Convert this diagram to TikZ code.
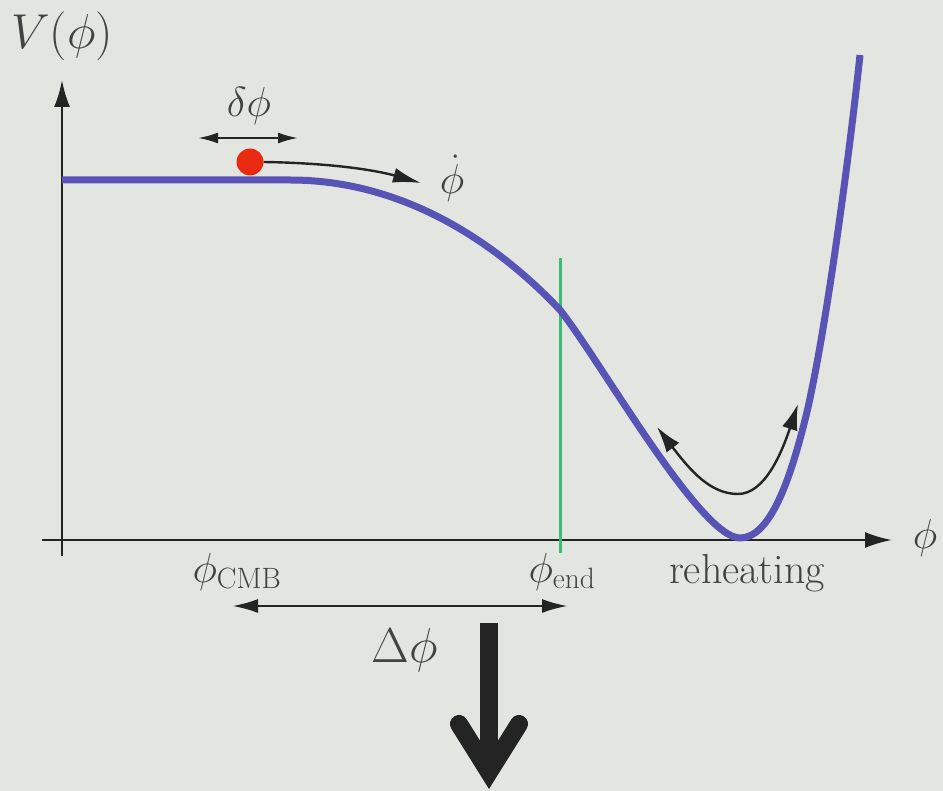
\RequirePackage{fix-cm}
\documentclass[tikz,border=0pt]{standalone}
\usepackage{amsmath}
\usepackage{tikz}
\usetikzlibrary{
  arrows.meta
}
\definecolor{paperFill}{RGB}{227,230,224}
\definecolor{potentialStroke}{RGB}{88,84,182}
\definecolor{endStroke}{RGB}{58,190,112}
\definecolor{ballFill}{RGB}{232,42,16}
\colorlet{ink}{black!86}
\colorlet{labelInk}{black!74}
\tikzset{
  axis/.style={-{Latex[length=27pt,width=16pt]}, draw=ink, line width=2.4pt},
  fluct/.style={{Latex[length=20pt,width=11pt]}-{Latex[length=20pt,width=11pt]}, draw=ink, line width=2.2pt},
  span/.style={{Latex[length=26pt,width=14pt]}-{Latex[length=26pt,width=14pt]}, draw=ink, line width=2.8pt},
  roll/.style={-{Latex[length=28pt,width=15pt]}, draw=ink, line width=2.4pt},
  oscillate/.style={{Latex[length=26pt,width=16pt]}-{Latex[length=26pt,width=16pt]}, draw=ink, line width=2.4pt},
  potential/.style={draw=potentialStroke, line width=7pt, line join=round},
  endline/.style={draw=endStroke, line width=3pt},
  ball/.style={circle, fill=ballFill, minimum size=27pt, inner sep=0pt},
  bigshaft/.style={draw=ink, line width=18pt},
  bigbarb/.style={draw=ink, line width=18pt, line cap=round, line join=miter},
  plotlabel/.style={font=\fontsize{42}{48}\selectfont, text=labelInk, inner sep=0pt},
  biglabel/.style={font=\fontsize{49}{56}\selectfont, text=labelInk, inner sep=0pt}
}

\begin{document}
\begin{tikzpicture}[x=1pt,y=-1pt]
  \fill[paperFill] (0,0) rectangle (943,791);
  \useasboundingbox (0,0) rectangle (943,791);

  % axes
  \coordinate (ybot) at (62,556);
  \coordinate (ytop) at (62,80);
  \coordinate (xleft) at (42,540);
  \coordinate (xright) at (892,540);
  \draw[axis] (ybot) -- (ytop);
  \draw[axis] (xleft) -- (xright);
  \node[biglabel] (vlabel) at (62,36) {$V(\phi)$};
  \node[plotlabel] (philabel) at (925,538) {$\phi$};

  % end of inflation
  \coordinate (endtop) at (560,258);
  \coordinate (endbot) at (560,553);
  \draw[endline] (endtop) -- (endbot);

  % the potential
  \draw[potential] (62,180) -- (290,180)
    .. controls (420,180) and (515,262) .. (560,310)
    .. controls (600,360) and (700,538) .. (740,538)
    .. controls (770,538) and (790,480) .. (805,420)
    .. controls (825,340) and (850,150) .. (860,55);

  % slow roll
  \node[ball] (inflaton) at (250,162) {};
  \coordinate (dleft) at (198,138);
  \coordinate (dright) at (298,138);
  \draw[fluct] (dleft) -- (dright);
  \node[plotlabel] (dphi) at (249,106) {$\delta\phi$};
  \coordinate (rolltip) at (421,183);
  \draw[roll] (inflaton.east) .. controls (330,163) and (375,170) .. (rolltip);
  \node[plotlabel] (phidot) at (452,178) {$\dot\phi$};

  % reheating
  \coordinate (rhleft) at (657,427);
  \coordinate (rhbot) at (738,494);
  \coordinate (rhright) at (798,404);
  \draw[oscillate] (rhleft) .. controls (690,470) and (710,494) .. (rhbot)
    .. controls (765,494) and (782,452) .. (rhright);

  \node[plotlabel, anchor=base] (phicmb) at (237,582) {$\phi_{\mathrm{CMB}}$};
  \node[plotlabel, anchor=base] (phiend) at (562,582) {$\phi_{\mathrm{end}}$};
  \node[plotlabel, anchor=base] (reheat) at (747,583) {reheating};

  % field range
  \coordinate (spanleft) at (232,606);
  \coordinate (spanright) at (568,606);
  \draw[span] (spanleft) -- (spanright);
  \node[biglabel] (dPhi) at (405,650) {$\Delta\phi$};

  % big arrow
  \coordinate (bigtop) at (489,623);
  \coordinate (bigtip) at (489,772);
  \draw[bigshaft] (bigtop) -- (bigtip);
  \draw[bigbarb] ([shift={(-30,-48)}]bigtip) -- (bigtip) -- ([shift={(30,-48)}]bigtip);
\end{tikzpicture}
\end{document}
